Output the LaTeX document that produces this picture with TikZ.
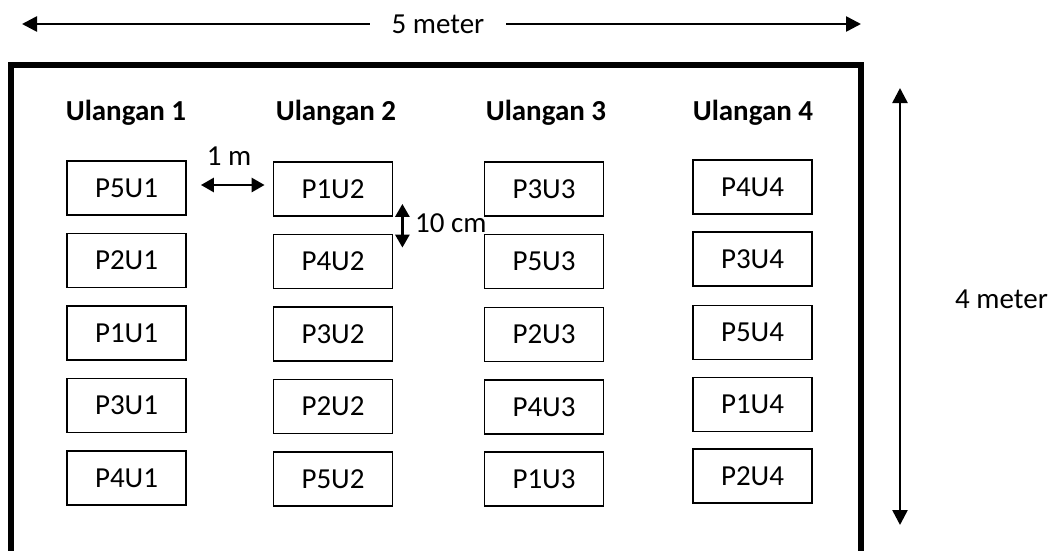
\documentclass[tikz,border=0pt]{standalone}
\usepackage{fontspec}
\setmainfont{Carlito}
\usetikzlibrary{arrows.meta}
\begin{document}
\begin{tikzpicture}[x=1pt,y=-1pt,
  plotbox/.style={draw, line width=1.8pt, minimum width=119pt, minimum height=54pt,
    inner sep=0pt, font=\fontsize{29}{35}\selectfont},
  header/.style={anchor=base, font=\fontsize{29}{35}\selectfont\bfseries},
  dimtext/.style={font=\fontsize{29}{35}\selectfont},
  dimline/.style={line width=2.6pt, {Triangle[length=15pt,width=15pt]}-{Triangle[length=15pt,width=15pt]}},
  gapline/.style={line width=2.8pt, {Triangle[length=13pt,width=14pt]}-{Triangle[length=13pt,width=14pt]}}]
  \useasboundingbox (0,0) rectangle (1050,551);
  \fill[white] (0,0) rectangle (1050,551);

  % field border (runs past the lower edge)
  \draw[line width=5.5pt] (11,558) -- (11,65) -- (861,65) -- (861,558);

  % column headers
  \node[header] (h1) at (126,121) {Ulangan 1};
  \node[header] (h2) at (336,121) {Ulangan 2};
  \node[header] (h3) at (546,121) {Ulangan 3};
  \node[header] (h4) at (753,121) {Ulangan 4};

  % plots, replicate 1
  \node[plotbox] (P5U1) at (126.5,188) {P5U1};
  \node[plotbox] (P2U1) at (126.5,260.5) {P2U1};
  \node[plotbox] (P1U1) at (126.5,333) {P1U1};
  \node[plotbox] (P3U1) at (126.5,405.5) {P3U1};
  \node[plotbox] (P4U1) at (126.5,478) {P4U1};
  % replicate 2
  \node[plotbox] (P1U2) at (333,189) {P1U2};
  \node[plotbox] (P4U2) at (333,261.5) {P4U2};
  \node[plotbox] (P3U2) at (333,334) {P3U2};
  \node[plotbox] (P2U2) at (333,406.5) {P2U2};
  \node[plotbox] (P5U2) at (333,479) {P5U2};
  % replicate 3
  \node[plotbox] (P3U3) at (544,189) {P3U3};
  \node[plotbox] (P5U3) at (544,261.5) {P5U3};
  \node[plotbox] (P2U3) at (544,334.5) {P2U3};
  \node[plotbox] (P4U3) at (544,407) {P4U3};
  \node[plotbox] (P1U3) at (544,479) {P1U3};
  % replicate 4
  \node[plotbox] (P4U4) at (752.5,187) {P4U4};
  \node[plotbox] (P3U4) at (752.5,259) {P3U4};
  \node[plotbox] (P5U4) at (752.5,332.5) {P5U4};
  \node[plotbox] (P1U4) at (752.5,404.5) {P1U4};
  \node[plotbox] (P2U4) at (752.5,476) {P2U4};

  % overall width
  \coordinate (wl) at (22,24);
  \coordinate (wr) at (861,24);
  \draw[dimline] (wl) -- (wr);
  \node[dimtext, fill=white, inner xsep=22pt, inner ysep=4pt] (wlabel) at (438,24) {5 meter};

  % overall length
  \coordinate (lt) at (900,88);
  \coordinate (lb) at (900,525);
  \draw[dimline] (lt) -- (lb);
  \node[dimtext, anchor=base west, inner sep=0pt] (llabel) at (955,308) {4 meter};

  % spacing between replicates
  \draw[gapline] ([xshift=14pt,yshift=3pt]P5U1.east) -- ([xshift=-8pt,yshift=4pt]P1U2.west);
  \node[dimtext, anchor=base, inner sep=0pt] (mlabel) at (229,165) {1 m};

  % spacing between plots
  \draw[gapline] ([xshift=9pt,yshift=13pt]P1U2.south east) -- ([xshift=9pt,yshift=-14pt]P4U2.north east);
  \node[dimtext, anchor=base west, inner sep=0pt] (cmlabel) at (415,232) {10 cm};
\end{tikzpicture}
\end{document}
